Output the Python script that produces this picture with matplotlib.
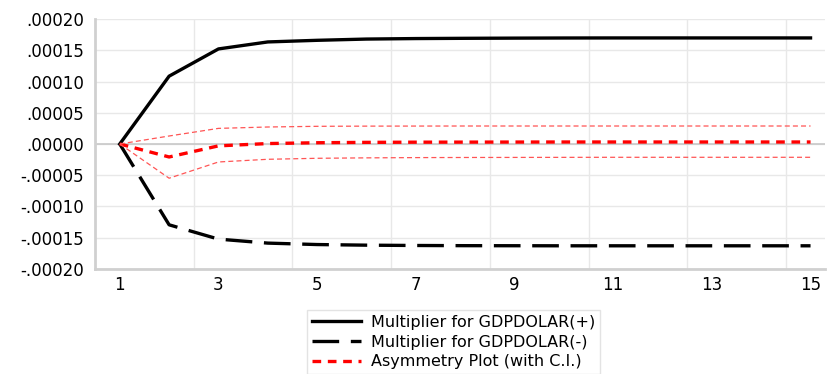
import matplotlib.pyplot as plt
from matplotlib.ticker import FuncFormatter

# horizon and multipliers
periods = list(range(1, 16))
mult_pos = [0.0, 0.0001086, 0.0001522, 0.0001634, 0.000166, 0.0001680, 0.0001688,
            0.0001692, 0.0001695, 0.0001697, 0.0001698, 0.0001698, 0.0001698, 0.0001698, 0.0001698]
mult_neg = [0.0, -0.0001294, -0.0001523, -0.0001587, -0.000161, -0.0001620, -0.0001625,
            -0.0001628, -0.0001629, -0.000163, -0.000163, -0.000163, -0.000163, -0.000163, -0.000163]
asym = [0.0, -0.0000208, -0.0000030, 0.0000007, 0.0000020, 0.0000026, 0.0000029,
        0.0000030, 0.0000031, 0.0000032, 0.0000032, 0.0000032, 0.0000032, 0.0000032, 0.0000032]
ci_upper = [0.0, 0.0000128, 0.000025, 0.0000272, 0.0000283, 0.0000286, 0.0000287,
            0.0000288, 0.0000288, 0.0000288, 0.0000288, 0.0000288, 0.0000288, 0.0000288, 0.0000288]
ci_lower = [0.0, -0.0000548, -0.0000288, -0.0000245, -0.0000229, -0.0000222, -0.0000218,
            -0.0000216, -0.0000215, -0.0000214, -0.0000213, -0.0000213, -0.0000213, -0.0000213, -0.0000213]
x_ticks = [1, 3, 5, 7, 9, 11, 13, 15]
y_ticks = [-0.0002, -0.00015, -0.0001, -0.00005, 0.0, 0.00005, 0.0001, 0.00015, 0.0002]


def fmt(v, pos):
    s = f"{abs(v):.5f}".lstrip("0")
    return ("-" if v < -1e-12 else "") + s


fig = plt.figure(figsize=(8.27, 3.74), dpi=100)
ax = fig.add_axes([0.115, 0.281, 0.883, 0.668])

l1, = ax.plot(periods, mult_pos, color="black", lw=2.4, solid_joinstyle="round")
l2, = ax.plot(periods, mult_neg, color="black", lw=2.4, dashes=(8, 3.5))
l3, = ax.plot(periods, asym, color="#ff0000", lw=2.4, dashes=(2.6, 2))
ax.plot(periods, ci_upper, color="#ff5555", lw=0.9, dashes=(4, 2.5))
ax.plot(periods, ci_lower, color="#ff5555", lw=0.9, dashes=(4, 2.5))

ax.set_xlim(0.5, 15.3)
ax.set_ylim(-0.0002, 0.0002)
ax.set_xticks(x_ticks)
ax.set_yticks(y_ticks)
ax.yaxis.set_major_formatter(FuncFormatter(fmt))
ax.tick_params(length=0, labelsize=12)
ax.tick_params(axis="x", pad=5)
ax.tick_params(axis="y", pad=8)

# grid: horizontal at every tick, vertical between the labelled periods
for v in y_ticks:
    ax.axhline(v, color="#e8e8e8", lw=1, zorder=0)
ax.axhline(0, color="#c8c8c8", lw=1.2, zorder=0.5)
for g in [2.5 + 2 * k for k in range(7)]:
    ax.axvline(g, color="#e8e8e8", lw=1, zorder=0)

for side in ["top", "right"]:
    ax.spines[side].set_visible(False)
for side in ["left", "bottom"]:
    ax.spines[side].set_color("#d0d0d0")
    ax.spines[side].set_linewidth(2)

leg = fig.legend([l1, l2, l3],
                 ["Multiplier for GDPDOLAR(+)", "Multiplier for GDPDOLAR(-)",
                  "Asymmetry Plot (with C.I.)"],
                 loc="upper left", bbox_to_anchor=(0.371, 0.171), borderaxespad=0,
                 fontsize=11.5, frameon=True, fancybox=False, handlelength=3.1,
                 labelspacing=0.3, borderpad=0.3, handletextpad=0.6)
leg.get_frame().set_edgecolor("#dcdcdc")
leg.get_frame().set_linewidth(1)

fig.savefig("out.png", dpi=100)
